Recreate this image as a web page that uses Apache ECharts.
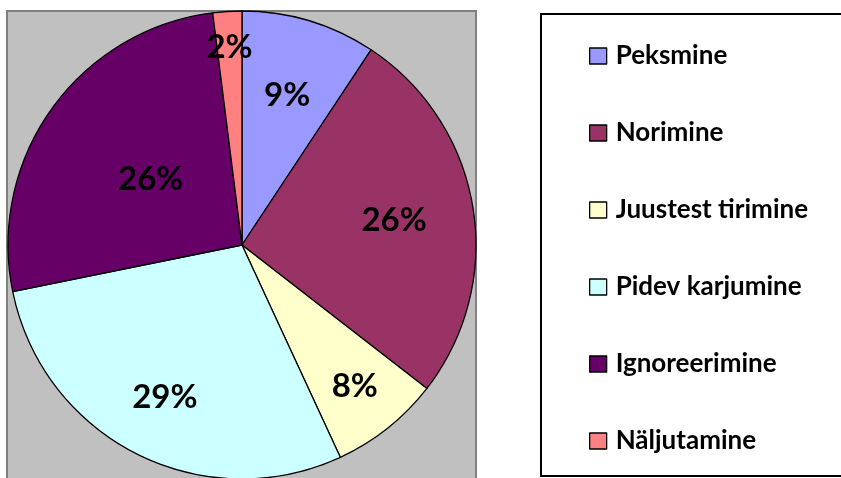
<!DOCTYPE html>
<html>
<head>
<meta charset="utf-8">
<script src="https://cdn.jsdelivr.net/npm/echarts@6/dist/echarts.min.js"></script>
<style>html,body{margin:0;padding:0;background:#fff}#c{width:841px;height:478px}</style>
</head>
<body>
<div id="c"></div>
<script>
// Data
const categories = ['Peksmine', 'Norimine', 'Juustest tirimine', 'Pidev karjumine', 'Ignoreerimine', 'Näljutamine'];
const values = [9.3, 26.2, 7.6, 28.7, 26.2, 2.0];
const colors = ['#9999FF', '#993366', '#FFFFCC', '#CCFFFF', '#660066', '#FF8080'];
// label radial placement (fraction of radius), style only
const labelRadiusFrac = [0.656, 0.646, 0.761, 0.718, 0.467, 0.833];

const R = 234;
const center = [242, 245];
const font = 'Lato, "Open Sans", sans-serif';

const pieData = categories.map((c, i) => ({ name: c, value: values[i], itemStyle: { color: colors[i] } }));

const series = [{
  type: 'pie',
  radius: [0, R],
  center: center,
  startAngle: 90,
  clockwise: true,
  animation: false,
  silent: true,
  label: { show: false },
  labelLine: { show: false },
  itemStyle: { borderColor: '#000', borderWidth: 1.3 },
  data: pieData
}];

// transparent label rings, one per slice, so each percent label sits at its own radius
categories.forEach((c, k) => {
  series.push({
    type: 'pie',
    radius: [0, 2 * labelRadiusFrac[k] * R],
    center: center,
    startAngle: 90,
    clockwise: true,
    animation: false,
    silent: true,
    legendHoverLink: false,
    z: 5,
    itemStyle: { color: 'rgba(0,0,0,0)', borderWidth: 0 },
    labelLine: { show: false },
    data: categories.map((n, i) => ({
      name: n,
      value: values[i],
      label: {
        show: i === k,
        position: 'inside',
        formatter: (p) => Math.round(p.percent) + '%',
        color: '#000',
        fontFamily: font,
        fontWeight: 'bold',
        fontSize: 33
      }
    }))
  });
});

const chart = echarts.init(document.getElementById('c'), null, { renderer: 'canvas' });
chart.setOption({
  animation: false,
  backgroundColor: '#fff',
  color: colors,
  graphic: [
    { type: 'rect', z: -10, shape: { x: 7, y: 11, width: 469, height: 480 },
      style: { fill: '#C0C0C0', stroke: '#808080', lineWidth: 2 } },
    { type: 'rect', z: -10, shape: { x: 541, y: 14, width: 320, height: 462 },
      style: { fill: '#fff', stroke: '#000', lineWidth: 2 } }
  ],
  legend: {
    orient: 'vertical',
    left: 584,
    top: 38,
    itemWidth: 17,
    itemHeight: 16,
    itemGap: 51,
    icon: 'rect',
    selectedMode: false,
    itemStyle: { borderColor: '#000', borderWidth: 1.3 },
    textStyle: { fontFamily: font, fontWeight: 'bold', fontSize: 26, color: '#000', lineHeight: 20, padding: [0, 0, 0, 4] },
    data: categories
  },
  series: series
});
</script>
</body>
</html>
